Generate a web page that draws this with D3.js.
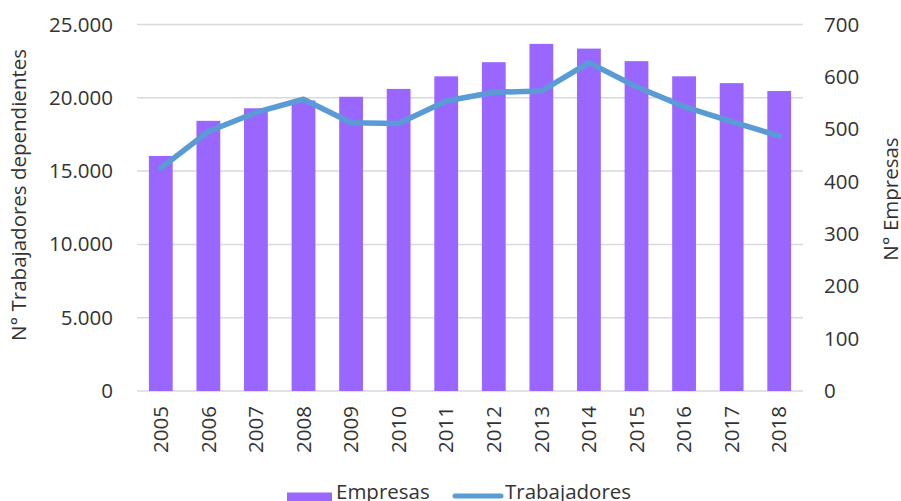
<!DOCTYPE html>
<html>
<head>
<meta charset="utf-8">
<script src="https://cdn.jsdelivr.net/npm/d3@7"></script>
<style>
  body { margin: 0; background: #fff; }
  svg { display: block; font-family: "Open Sans", sans-serif; }
</style>
</head>
<body>
<svg id="chart" width="901" height="501"></svg>
<script>
const SIZE = { width: 901, height: 501 };
const MARGIN = { left: 137, right: 98, top: 24.5, bottom: 110 };

const years = ['2005', '2006', '2007', '2008', '2009', '2010', '2011',
  '2012', '2013', '2014', '2015', '2016', '2017', '2018'];
const empresas = [449, 516, 540, 555, 562, 577, 601, 628, 663, 654, 630, 601, 588, 573];
const trabajadores = [15200, 17700, 19000, 19900, 18300, 18250, 19780,
  20380, 20460, 22400, 20750, 19400, 18370, 17400];
const leftTicks = [0, 5000, 10000, 15000, 20000, 25000];
const rightTicks = [0, 100, 200, 300, 400, 500, 600, 700];

const COLORS = { bar: '#9966ff', line: '#5b9bd5', grid: '#d9d9d9', text: '#333333' };
const FONT_SIZE = '20.5px';

const svg = d3.select('#chart');
const plotW = SIZE.width - MARGIN.left - MARGIN.right;
const plotH = SIZE.height - MARGIN.top - MARGIN.bottom;
const bottomY = MARGIN.top + plotH;

const xScale = d3.scaleBand()
  .domain(years)
  .range([MARGIN.left, MARGIN.left + plotW])
  .paddingInner(0.5)
  .paddingOuter(0.25);
const yLeft = d3.scaleLinear()
  .domain([0, 25000])
  .range([bottomY, MARGIN.top]);
const yRight = d3.scaleLinear()
  .domain([0, 700])
  .range([bottomY, MARGIN.top]);

const fmt = (v) => d3.format(',')(v).replace(/,/g, '.');

// gridlines on the left scale
svg.append('g')
  .selectAll('line')
  .data(leftTicks)
  .enter()
  .append('line')
  .attr('x1', MARGIN.left)
  .attr('x2', MARGIN.left + plotW)
  .attr('y1', (d) => yLeft(d))
  .attr('y2', (d) => yLeft(d))
  .attr('stroke', COLORS.grid)
  .attr('stroke-width', 1.5);

// bars (right axis)
svg.append('g')
  .selectAll('rect')
  .data(years)
  .enter()
  .append('rect')
  .attr('x', (d) => xScale(d))
  .attr('width', xScale.bandwidth())
  .attr('y', (d, i) => yRight(empresas[i]))
  .attr('height', (d, i) => bottomY - yRight(empresas[i]))
  .attr('fill', COLORS.bar);

// line (left axis)
const line = d3.line()
  .x((d, i) => xScale(years[i]) + xScale.bandwidth() / 2)
  .y((d) => yLeft(d));

svg.append('path')
  .datum(trabajadores)
  .attr('d', line)
  .attr('fill', 'none')
  .attr('stroke', COLORS.line)
  .attr('stroke-width', 5.5)
  .attr('stroke-linejoin', 'round')
  .attr('stroke-linecap', 'round');

// axes
const leftAxis = svg.append('g')
  .attr('transform', `translate(${MARGIN.left},0)`)
  .call(d3.axisLeft(yLeft).tickValues(leftTicks).tickFormat(fmt).tickSize(0).tickPadding(24));
const rightAxis = svg.append('g')
  .attr('transform', `translate(${MARGIN.left + plotW},0)`)
  .call(d3.axisRight(yRight).tickValues(rightTicks).tickSize(0).tickPadding(21));
const bottomAxis = svg.append('g')
  .attr('transform', `translate(0,${bottomY})`)
  .call(d3.axisBottom(xScale).tickSize(0));

[leftAxis, rightAxis, bottomAxis].forEach((g) => {
  g.select('.domain').remove();
  g.selectAll('text')
    .attr('fill', COLORS.text)
    .style('font-size', FONT_SIZE)
    .style('font-family', '"Open Sans", sans-serif');
});

bottomAxis.selectAll('text')
  .attr('transform', 'rotate(-90)')
  .attr('text-anchor', 'end')
  .attr('x', -15)
  .attr('y', 0)
  .attr('dy', '0.35em');

// axis titles
svg.append('text')
  .attr('transform', `translate(26,${195}) rotate(-90)`)
  .attr('text-anchor', 'middle')
  .attr('fill', COLORS.text)
  .style('font-size', FONT_SIZE)
  .text('N° Trabajadores dependientes');

svg.append('text')
  .attr('transform', `translate(898,${199}) rotate(-90)`)
  .attr('text-anchor', 'middle')
  .attr('fill', COLORS.text)
  .style('font-size', FONT_SIZE)
  .text('N° Empresas');

// legend
const legend = svg.append('g');
legend.append('rect')
  .attr('x', 287).attr('y', 492.5)
  .attr('width', 45).attr('height', 10)
  .attr('fill', COLORS.bar);
legend.append('text')
  .attr('x', 336).attr('y', 499)
  .attr('fill', COLORS.text)
  .style('font-size', FONT_SIZE)
  .text('Empresas');
legend.append('line')
  .attr('x1', 455).attr('x2', 501)
  .attr('y1', 496).attr('y2', 496)
  .attr('stroke', COLORS.line)
  .attr('stroke-width', 5)
  .attr('stroke-linecap', 'round');
legend.append('text')
  .attr('x', 505).attr('y', 499)
  .attr('fill', COLORS.text)
  .style('font-size', FONT_SIZE)
  .text('Trabajadores');
</script>
</body>
</html>
